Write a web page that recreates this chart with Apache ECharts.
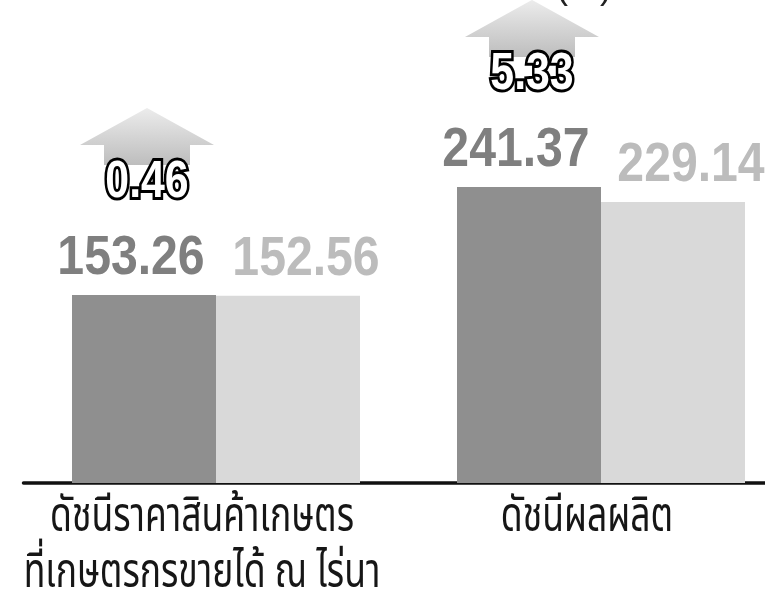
<!DOCTYPE html>
<html>
<head>
<meta charset="utf-8">
<script src="https://cdn.jsdelivr.net/npm/echarts@6/dist/echarts.min.js"></script>
<style>
html,body{margin:0;padding:0;background:#fff;}
#c{width:765px;height:591px;}
</style>
</head>
<body>
<div id="c"></div>
<script>
var categories = ['ดัชนีราคาสินค้าเกษตร\nที่เกษตรกรขายได้ ณ ไร่นา', 'ดัชนีผลผลิต'];
var currentValues = [153.26, 241.37];
var previousValues = [152.56, 229.14];
var changeValues = ['0.46', '5.33'];
var unitLabel = '(%)';

var BAR_W = 144;
var NUM_FONT = "'Liberation Sans', Arial, sans-serif";
var THAI_FONT = "'Noto Sans Thai', 'Noto Sans', sans-serif";
var chart = echarts.init(document.getElementById('c'), null, {renderer: 'canvas'});

function valueLabelSeries(name, values, dx, color, side) {
  return {
    type: 'custom', name: name, z: 6,
    data: values.map(function (v, i) { return [i, v]; }),
    renderItem: function (params, api) {
      var p = api.coord([api.value(0), api.value(1)]);
      var cx = p[0] + side * BAR_W / 2 + dx;
      return {
        type: 'text', x: cx, y: p[1] - 8, scaleX: 0.86,
        style: {
          text: api.value(1).toFixed(2), align: 'center', verticalAlign: 'bottom',
          fontSize: 56, fontWeight: 'bold', fontFamily: NUM_FONT, fill: color
        }
      };
    }
  };
}

var option = {
  animation: false,
  backgroundColor: '#ffffff',
  grid: {left: 23.5, right: -28.5, top: 115, bottom: 108, containLabel: false, outerBoundsMode: 'none'},
  xAxis: {
    type: 'category',
    data: categories,
    axisLine: {show: true, lineStyle: {color: '#111', width: 3.5}},
    axisTick: {show: false},
    axisLabel: {show: false}
  },
  yAxis: {type: 'value', min: 0, max: 300, show: false, splitLine: {show: false}},
  graphic: [{
    type: 'text', left: 556, top: -30, z: 10,
    style: {text: unitLabel, fontSize: 36, fill: '#222', fontFamily: NUM_FONT}
  }],
  series: [
    {
      type: 'bar', name: 'current', data: currentValues, barWidth: BAR_W, barGap: '0%',
      itemStyle: {color: '#8f8f8f'}
    },
    {
      type: 'bar', name: 'previous', data: previousValues, barWidth: BAR_W, barGap: '0%',
      itemStyle: {color: '#d9d9d9'}
    },
    valueLabelSeries('currentLabel', currentValues, -13, '#7f7f7f', -1),
    valueLabelSeries('previousLabel', previousValues, 18, '#bcbcbc', 1),
    {
      type: 'custom', name: 'categoryLabel', z: 6,
      data: categories.map(function (c, i) { return [i, 0]; }),
      renderItem: function (params, api) {
        var p = api.coord([api.value(0), 0]);
        return {
          type: 'text', x: p[0] - 14, y: p[1] + 10, scaleX: 0.74,
          style: {
            text: categories[params.dataIndex], align: 'center', verticalAlign: 'top',
            fontSize: 48, lineHeight: 56, fontFamily: THAI_FONT, fill: '#161616'
          }
        };
      }
    },
    {
      type: 'custom', name: 'change', z: 5,
      data: currentValues.map(function (v, i) { return [i, v]; }),
      renderItem: function (params, api) {
        var p = api.coord([api.value(0), api.value(1)]);
        var cx = p[0] - BAR_W / 2 + 3;
        var yTop = p[1];
        var labelBottom = yTop - 95;
        var labelTop = labelBottom - 35;
        var base = labelTop - 20;
        var apex = base - 37;
        var hw = 67, sw = 43;
        return {
          type: 'group',
          children: [
            {
              type: 'polygon',
              shape: {points: [
                [cx, apex], [cx + hw, base], [cx + sw, base], [cx + sw, labelTop],
                [cx - sw, labelTop], [cx - sw, base], [cx - hw, base]
              ]},
              style: {
                fill: new echarts.graphic.LinearGradient(0, 0, 0, 1, [
                  {offset: 0, color: '#ececec'}, {offset: 1, color: '#bdbdbd'}
                ])
              }
            },
            {
              type: 'text',
              x: cx, y: labelTop + 18, scaleX: 0.84,
              style: {
                text: changeValues[params.dataIndex],
                align: 'center', verticalAlign: 'middle',
                fontSize: 51, fontWeight: 'bold', fontFamily: NUM_FONT,
                fill: '#ffffff', stroke: '#000000', lineWidth: 6, strokeFirst: true
              }
            }
          ]
        };
      }
    }
  ]
};
chart.setOption(option);
</script>
</body>
</html>
